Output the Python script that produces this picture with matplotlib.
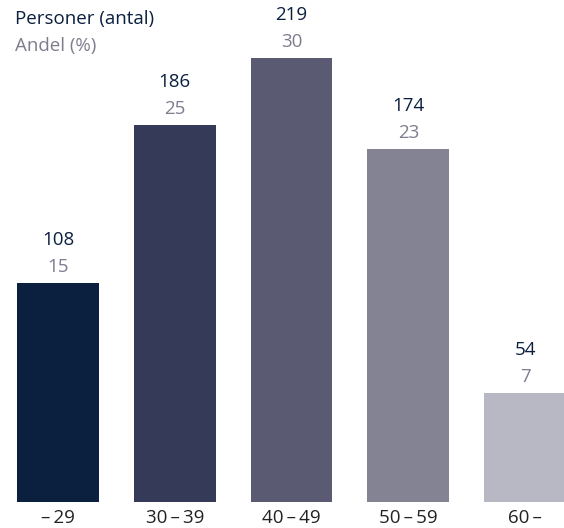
import matplotlib.pyplot as plt

plt.rcParams['font.family'] = ['Open Sans', 'DejaVu Sans']

groups = ["\u2013\u200929", "30\u2009\u2013\u200939", "40\u2009\u2013\u200949", "50\u2009\u2013\u200959", "60\u2009\u2013"]
personer = [108, 186, 219, 174, 54]
andel = [15, 25, 30, 23, 7]
colors = ["#0b1f3f", "#343a57", "#5a5a72", "#838393", "#b8b7c4"]

dark = "#0b1f3f"
grey = "#7d7d8f"

fig = plt.figure(figsize=(5.64, 5.28), dpi=100)
ax = fig.add_axes([0, 26 / 528, 1, 502 / 528])

x = range(len(groups))
ax.bar(x, personer, width=0.70, color=colors)

ax.set_xlim(-0.497, 4.334)
ax.set_ylim(0, 247.6)

fs = 13.5
px = 247.6 / 502  # data units per pixel
for i, (p, a) in enumerate(zip(personer, andel)):
    ax.text(i, p + 16 * px, str(a), ha="center", va="center", fontsize=fs, color=grey)
    ax.text(i, p + 43 * px, str(p), ha="center", va="center", fontsize=fs, color=dark)

for i, g in enumerate(groups):
    ax.text(i, -16 * px, g, ha="center", va="center", fontsize=fs, color="#222222")

fig.text(15 / 564, 1 - 19 / 528, "Personer (antal)", ha="left", va="center", fontsize=fs, color=dark)
fig.text(15 / 564, 1 - 46 / 528, "Andel (%)", ha="left", va="center", fontsize=fs, color=grey)

ax.axis("off")
fig.savefig("out.png", dpi=100)
